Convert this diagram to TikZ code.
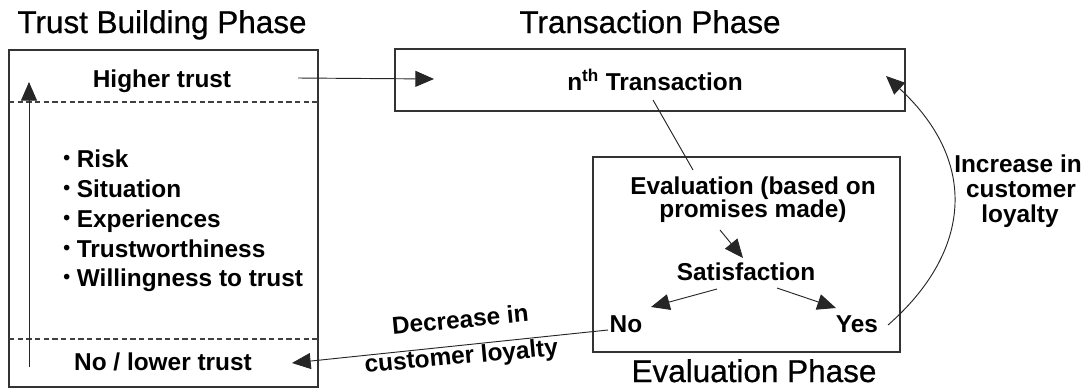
\documentclass[tikz,border=0pt]{standalone}
\usepackage{fontspec}
\setmainfont{Liberation Sans}
\newfontfamily\phasefont[FakeBold=0.7]{Liberation Sans}
\usetikzlibrary{arrows.meta}
\newcommand{\smallbullet}{\raisebox{0.12em}{\scalebox{0.8}{•}}}
\begin{document}
\begin{tikzpicture}[x=0.75pt,y=-0.75pt,
  phase/.style={font=\phasefont\fontsize{23.6}{28}\selectfont, anchor=base, inner sep=0pt},
  lbl/.style={font=\bfseries\fontsize{18.3}{22}\selectfont, anchor=base, inner sep=0pt},
  item/.style={lbl, anchor=base west},
  frame/.style={draw=black!80, line width=1pt},
  sep/.style={draw=black!75, line width=0.8pt, dash pattern=on 4pt off 2.5pt},
  link/.style={draw=black!85, line width=0.7pt},
  arr/.style={link, -{Triangle[length=14pt,width=12pt]}},
]
\useasboundingbox (0,0) rectangle (1092,390);

% --- phase frames ---
\draw[frame] (9,50) rectangle (318,387);
\draw[frame] (395,49) rectangle (905,111);
\draw[frame] (593,157) rectangle (900,352);
\draw[sep] (9,102) -- (318,102);
\draw[sep] (9,339) -- (318,339);

% --- phase titles ---
\node[phase] (tbtitle) at (162,33) {Trust Building Phase};
\node[phase] (trtitle) at (650,33) {Transaction Phase};
\node[phase] (evtitle) at (754,382) {Evaluation Phase};

% --- trust building contents ---
\node[lbl] (higher) at (162,87) {Higher trust};
\node[lbl] (lower) at (163,370) {No / lower trust};
\node[item] (risk) at (63,167) {\smallbullet\ Risk};
\node[item] (situation) at (63,197) {\smallbullet\ Situation};
\node[item] (experiences) at (63,227) {\smallbullet\ Experiences};
\node[item] (worthiness) at (63,257) {\smallbullet\ Trustworthiness};
\node[item] (willingness) at (63,286) {\smallbullet\ Willingness to trust};

% --- transaction and evaluation contents ---
\node[lbl] (nth) at (655,90) {n\textsuperscript{th} Transaction};
\node[lbl] (eval1) at (753,194) {Evaluation (based on};
\node[lbl] (eval2) at (753,217) {promises made)};
\node[lbl] (sat) at (746,280) {Satisfaction};
\node[lbl] (no) at (626,332) {No};
\node[lbl] (yes) at (857,332) {Yes};

% --- loyalty labels ---
\node[lbl] (inc1) at (1018,172) {Increase in};
\node[lbl] (inc2) at (1021,197) {customer};
\node[lbl] (inc3) at (1020,222) {loyalty};
\node[lbl, rotate=5.5] (dec1) at (461,328) {Decrease in};
\node[lbl, rotate=5.2] (dec2) at (462,364) {customer loyalty};

% --- connector end points ---
\coordinate (upfoot) at (29,367);
\coordinate (uptip) at (29,82);
\coordinate (htout) at (298,78);
\coordinate (trin) at (434,79);
\coordinate (nthout) at (653,100);
\coordinate (evalin) at (693,170);
\coordinate (evalout) at (720,230);
\coordinate (satin) at (743,258);
\coordinate (satl) at (717,289);
\coordinate (noin) at (651,307);
\coordinate (satr) at (777,288);
\coordinate (yesin) at (836,308);
\coordinate (noout) at (608,330);
\coordinate (lowin) at (292,363);
\coordinate (yesout) at (888,325);
\coordinate (trback) at (886,76);

% --- connectors ---
\draw[arr] (upfoot) -- (uptip);
\draw[arr] (htout) -- (trin);
\draw[link] (nthout) -- (evalin);
\draw[arr] (evalout) -- (satin);
\draw[arr] (satl) -- (noin);
\draw[arr] (satr) -- (yesin);
\draw[arr] (noout) -- (lowin);
\draw[arr] (yesout) .. controls (968,255) and (982,165) .. (trback);
\end{tikzpicture}
\end{document}
